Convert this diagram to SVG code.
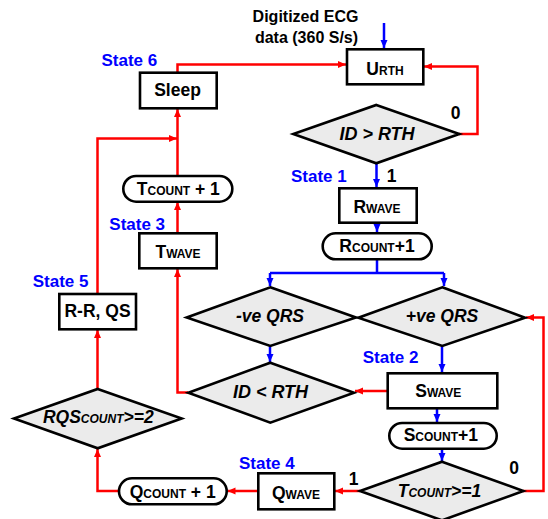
<svg xmlns="http://www.w3.org/2000/svg" width="548" height="519" viewBox="0 0 548 519">
<style>
text{font-family:"Liberation Sans",Arial,sans-serif;font-weight:bold;fill:#000}
.t{font-size:17.5px;text-anchor:middle}
.s{font-size:12px}
.i{font-style:italic}
.st{font-size:17px;fill:#0000ff}
.box{fill:#fff;stroke:#000;stroke-width:2.6}
.dia{fill:#ebebeb;stroke:#000;stroke-width:2.6}
.r{fill:none;stroke:#ff0000;stroke-width:2.5}
.b{fill:none;stroke:#0000ff;stroke-width:2.5}
</style>
<defs>
<marker id="ar" markerUnits="userSpaceOnUse" markerWidth="9" markerHeight="8" refX="8" refY="3.5" orient="auto"><path d="M0,0 L8,3.5 L0,7 z" fill="#ff0000"/></marker>
<marker id="ab" markerUnits="userSpaceOnUse" markerWidth="9" markerHeight="8" refX="8" refY="3.5" orient="auto"><path d="M0,0 L8,3.5 L0,7 z" fill="#0000ff"/></marker>
</defs>
<rect width="548" height="519" fill="#fff"/>
<g id="connectors">
<path class="b" d="M384,23 V48" marker-end="url(#ab)"/>
<path class="b" d="M376.5,163 V187" marker-end="url(#ab)"/>
<path class="b" d="M377,223 V232" marker-end="url(#ab)"/>
<path class="b" d="M377,259 V273 M270,273 H444"/>
<path class="b" d="M270,273 V286" marker-end="url(#ab)"/>
<path class="b" d="M444,273 V286" marker-end="url(#ab)"/>
<path class="b" d="M270,346 V362" marker-end="url(#ab)"/>
<path class="b" d="M442,346 V372" marker-end="url(#ab)"/>
<path class="b" d="M437,408 V422" marker-end="url(#ab)"/>
<path class="b" d="M442,449 V461" marker-end="url(#ab)"/>
<path class="r" d="M177.5,73 V64.5 H346" marker-end="url(#ar)"/>
<path class="r" d="M459,134 H477.5 V66.5 H424" marker-end="url(#ar)"/>
<path class="r" d="M97.5,294 V138.5 H177" marker-end="url(#ar)"/>
<path class="r" d="M177.5,176 V109" marker-end="url(#ar)"/>
<path class="r" d="M177.5,233 V202" marker-end="url(#ar)"/>
<path class="r" d="M188,392.5 H177.5 V269" marker-end="url(#ar)"/>
<path class="r" d="M388,391 H355" marker-end="url(#ar)"/>
<path class="r" d="M523,491 H543.5 V317.5 H526" marker-end="url(#ar)"/>
<path class="r" d="M360,491 H335" marker-end="url(#ar)"/>
<path class="r" d="M258,491 H227.5" marker-end="url(#ar)"/>
<path class="r" d="M119,491 H97.5 V449" marker-end="url(#ar)"/>
<path class="r" d="M97.5,389 V330" marker-end="url(#ar)"/>
</g>
<g id="input-label">
<text class="t" x="305.5" y="21.7" style="font-size:16px">Digitized ECG</text>
<text class="t" x="306.5" y="42.7" style="font-size:16px">data (360 S/s)</text>
</g>
<g id="urth">
<rect class="box" x="347" y="49.3" width="76.3" height="35"/>
<text class="t" x="385" y="74.7">U<tspan class="s">RTH</tspan></text>
</g>
<g id="sleep">
<text class="st" x="101.5" y="66">State 6</text>
<rect class="box" x="140" y="72.7" width="76.7" height="35.6"/>
<text class="t" x="177.5" y="95.7">Sleep</text>
</g>
<g id="id-gt-rth">
<polygon class="dia" points="376.3,105 459.3,134 376.3,163.3 293.3,134"/>
<text class="t i" x="377" y="140" style="font-size:18px">ID &gt; RTH</text>
<text class="t" x="455.5" y="119">0</text>
</g>
<g id="rwave">
<text class="st" x="291" y="181.7">State 1</text>
<text class="t" x="391.5" y="181.7">1</text>
<rect class="box" x="339.3" y="188.3" width="77.4" height="34.4"/>
<text class="t" x="377" y="213.3">R<tspan class="s">WAVE</tspan></text>
</g>
<g id="rcount">
<rect class="box" x="322.7" y="233.3" width="109" height="26" rx="13"/>
<text class="t" x="377" y="251.7">R<tspan class="s">COUNT</tspan>+1</text>
</g>
<g id="tcount">
<rect class="box" x="123.3" y="176" width="109" height="25.7" rx="12.8"/>
<text class="t" x="178.3" y="195">T<tspan class="s">COUNT</tspan> + 1</text>
</g>
<g id="twave">
<text class="st" x="109.3" y="230">State 3</text>
<rect class="box" x="139.3" y="233.3" width="77.4" height="35"/>
<text class="t" x="178" y="258.3">T<tspan class="s">WAVE</tspan></text>
</g>
<g id="rr-qs">
<text class="st" x="32.7" y="286.7">State 5</text>
<rect class="box" x="59.3" y="294" width="76.7" height="35.3"/>
<text class="t" x="97.5" y="316.7">R-R, QS</text>
</g>
<g id="neg-qrs">
<polygon class="dia" points="270.3,287.3 356,317.5 270.3,346 186.7,317.5"/>
<text class="t i" x="270" y="322.3">-ve QRS</text>
</g>
<g id="pos-qrs">
<polygon class="dia" points="442.3,287.3 525,317.7 442.3,346 358.3,317.7"/>
<text class="t i" x="442" y="322.3">+ve QRS</text>
</g>
<g id="id-lt-rth">
<polygon class="dia" points="270.3,362.7 354,392.7 270.3,422.7 188.3,392.7"/>
<text class="t i" x="270.5" y="397.7" style="font-size:18px">ID &lt; RTH</text>
</g>
<g id="swave">
<text class="st" x="362.7" y="363.3">State 2</text>
<rect class="box" x="387.7" y="373.3" width="109.6" height="35"/>
<text class="t" x="438.3" y="397.3">S<tspan class="s">WAVE</tspan></text>
</g>
<g id="scount">
<rect class="box" x="389.3" y="423" width="107.4" height="25.7" rx="12.8"/>
<text class="t" x="440.8" y="440.5">S<tspan class="s">COUNT</tspan>+1</text>
</g>
<g id="rqs-count">
<polygon class="dia" points="97.7,389 181.7,418.5 97.7,448.3 14,418.5"/>
<text class="t i" x="98.3" y="423.3">RQS<tspan class="s">COUNT</tspan>&gt;=2</text>
</g>
<g id="tcount-cond">
<polygon class="dia" points="442,461.7 523.3,491 442,520.3 360,491"/>
<text class="t i" x="439.5" y="496.7">T<tspan class="s">COUNT</tspan>&gt;=1</text>
<text class="t" x="514" y="474">0</text>
<text class="t" x="353.5" y="485">1</text>
</g>
<g id="qwave">
<text class="st" x="239" y="469">State 4</text>
<rect class="box" x="258.3" y="473.3" width="76" height="36"/>
<text class="t" x="296" y="499.3">Q<tspan class="s">WAVE</tspan></text>
</g>
<g id="qcount">
<rect class="box" x="119" y="478.3" width="107.7" height="26" rx="13"/>
<text class="t" x="172.7" y="497.7">Q<tspan class="s">COUNT</tspan> + 1</text>
</g>
</svg>
